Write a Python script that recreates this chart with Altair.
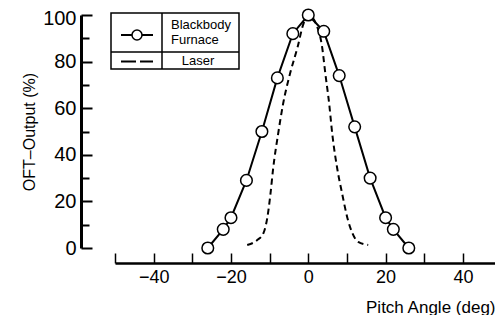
import altair as alt
import pandas as pd

# Blackbody furnace measurements
bb_angle = [-26, -22, -20, -16, -12, -8, -4, 0, 4, 8, 12, 16, 20, 22, 26]
bb_output = [0, 8, 13, 29, 50, 73, 92, 100, 93, 74, 52, 30, 13, 8, 0]

# Laser curve
laser_angle = [-15.8, -13.2, -11.6, -10.6, -9.8, -9.1, -7.8, -6.5, -4.7, -2.8, -1.3, 0,
               2.3, 3.6, 4.4, 5.4, 6.2, 7.5, 8.8, 10.1, 11.4, 12.9, 15.5]
laser_output = [1.3, 3.4, 6.4, 13, 23, 34, 49, 62, 75, 86, 96, 100,
                95, 86, 75, 62, 49, 34, 23, 13, 6.4, 2.6, 1.3]

x_major = [-40, -20, 0, 20, 40]
x_ticks = [-50, -40, -30, -20, -10, 0, 10, 20, 30, 40]
y_major = [0, 20, 40, 60, 80, 100]
y_minor = [10, 30, 50, 70, 90]

legend_labels = ["Blackbody", "Furnace", "Laser"]

FONT = "Liberation Sans"
W, H = 380, 233

bb = pd.DataFrame({"angle": bb_angle, "output": bb_output})
laser = pd.DataFrame({"angle": laser_angle, "output": laser_output})

xs = alt.Scale(domain=[-50, 48.3], nice=False, zero=False)
ys = alt.Scale(domain=[0, 100], nice=False, zero=False)

# Laser line: carries the inward ticks (top x axis moved down, right y axis moved left)
laser_line = alt.Chart(laser).mark_line(
    color="black", strokeWidth=2, strokeDash=[6, 4], interpolate="monotone"
).encode(
    x=alt.X("angle:Q", scale=xs, axis=alt.Axis(
        orient="top", offset=-(H + 15), values=x_ticks, labels=False, domain=False,
        ticks=True, tickSize=10, tickWidth=1.5, tickColor="black", grid=False, title=None)),
    y=alt.Y("output:Q", scale=ys, axis=alt.Axis(
        orient="right", offset=-(W + 34), values=y_major, labels=False, domain=False,
        ticks=True, tickSize=11, tickWidth=2, tickColor="black", grid=False, title=None)),
)

# Blackbody line: carries labels, domains and titles
bb_line = alt.Chart(bb).mark_line(color="black", strokeWidth=2).encode(
    x=alt.X("angle:Q", scale=xs, axis=alt.Axis(
        orient="bottom", offset=15, values=x_major, ticks=False, tickSize=0,
        domain=True, domainColor="black", domainWidth=2.5, grid=False,
        labelFont=FONT, labelFontSize=18, labelColor="black", labelPadding=5,
        title="Pitch Angle (deg)", titleFont=FONT, titleFontSize=17,
        titleFontWeight="normal", titleColor="black",
        titleX=W, titleY=49, titleAlign="right", titleBaseline="alphabetic")),
    y=alt.Y("output:Q", scale=ys, axis=alt.Axis(
        orient="left", offset=34, values=y_major, ticks=False, tickSize=0,
        domain=True, domainColor="black", domainWidth=3, grid=False,
        labelFont=FONT, labelFontSize=20, labelColor="black", labelPadding=5,
        labelOffset={"condition": {"test": "datum.value === 100", "value": 3}, "value": 0},
        title="OFT\u2013Output (%)", titleFont=FONT, titleFontSize=16,
        titleFontWeight="normal", titleColor="black",
        titleX=-47, titleY=H / 2, titleAngle=270, titleAlign="center",
        titleBaseline="alphabetic")),
)

# Blackbody points: carries the minor y ticks
bb_pts = alt.Chart(bb).mark_point(
    shape="circle", size=135, filled=True, fill="white", stroke="black",
    strokeWidth=1.5, opacity=1
).encode(
    x=alt.X("angle:Q", scale=xs, axis=None),
    y=alt.Y("output:Q", scale=ys, axis=alt.Axis(
        orient="right", offset=-(W + 34), values=y_minor, labels=False, domain=False,
        ticks=True, tickSize=8, tickWidth=2, tickColor="black", grid=False, title=None)),
)

# Custom legend (table-style box)
one = pd.DataFrame({"k": [0]})
box = alt.Chart(one).mark_rect(fill="white", stroke="black", strokeWidth=1.5).encode(
    x=alt.value(-4), x2=alt.value(124), y=alt.value(-2), y2=alt.value(54))
vdiv = alt.Chart(one).mark_rule(color="black", strokeWidth=1.5).encode(
    x=alt.value(47), y=alt.value(-2), y2=alt.value(54))
hdiv = alt.Chart(one).mark_rule(color="black", strokeWidth=1.5).encode(
    x=alt.value(-4), x2=alt.value(124), y=alt.value(37))
leg_bb_line = alt.Chart(one).mark_rule(color="black", strokeWidth=2).encode(
    x=alt.value(6), x2=alt.value(38), y=alt.value(20))
leg_bb_pt = alt.Chart(one).mark_point(
    shape="circle", size=100, filled=True, fill="white", stroke="black", strokeWidth=1.5,
    opacity=1).encode(x=alt.value(22), y=alt.value(20))
leg_laser = alt.Chart(one).mark_rule(color="black", strokeWidth=2, strokeDash=[15, 4]).encode(
    x=alt.value(6), x2=alt.value(38), y=alt.value(46.5))
leg_t1 = alt.Chart(one).mark_text(font=FONT, fontSize=13, align="left", baseline="middle",
                                  color="black", text=legend_labels[0]).encode(
    x=alt.value(56), y=alt.value(10))
leg_t2 = alt.Chart(one).mark_text(font=FONT, fontSize=13, align="left", baseline="middle",
                                  color="black", text=legend_labels[1]).encode(
    x=alt.value(56), y=alt.value(25))
leg_t3 = alt.Chart(one).mark_text(font=FONT, fontSize=13, align="center", baseline="middle",
                                  color="black", text=legend_labels[2]).encode(
    x=alt.value(83), y=alt.value(46))

chart = alt.layer(
    laser_line, bb_line, bb_pts,
    box, vdiv, hdiv, leg_bb_line, leg_bb_pt, leg_laser, leg_t1, leg_t2, leg_t3
).resolve_axis(x="independent", y="independent").properties(
    width=W, height=H,
    autosize=alt.AutoSizeParams(type="none"),
    padding={"left": 107, "top": 7, "right": 0, "bottom": 67},
    background="white",
).configure_view(stroke=None)

chart.save("out.html", embed_options={"renderer": "svg", "actions": False})
